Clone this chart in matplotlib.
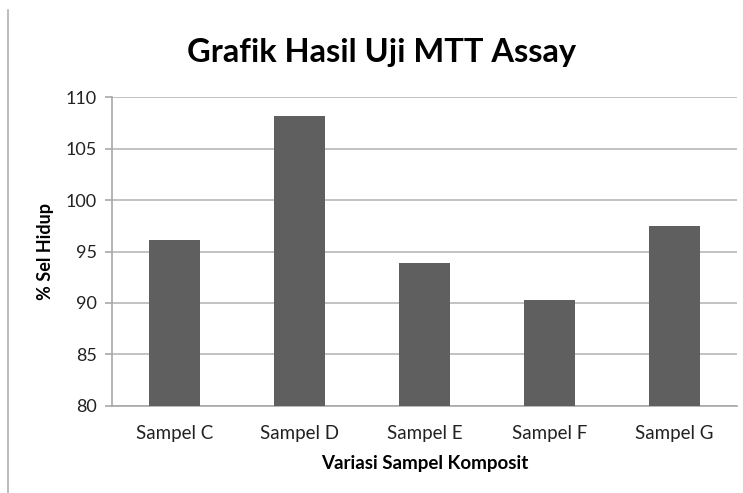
import matplotlib
matplotlib.use('Agg')
import matplotlib.pyplot as plt
from matplotlib.lines import Line2D

samples = ['Sampel C', 'Sampel D', 'Sampel E', 'Sampel F', 'Sampel G']
sel_hidup = [96.1, 108.2, 93.9, 90.3, 97.5]

plt.rcParams['font.family'] = ['Lato', 'DejaVu Sans']

fig = plt.figure(figsize=(7.43, 4.93), dpi=100)
ax = fig.add_axes([0.1507, 0.1765, 0.8413, 0.6267])

x = range(len(samples))
ax.bar(x, sel_hidup, width=0.41, color='#5f5f5f', bottom=0, zorder=3)
ax.set_xlim(-0.5, len(samples) - 0.5)
ax.set_ylim(80, 110)
ax.set_yticks(range(80, 111, 5))
ax.set_xticks(list(x))
ax.set_xticklabels(samples, fontsize=13.5, color='#222222')
ax.tick_params(axis='y', labelsize=13, colors='#222222', length=5, width=1.2,
               color='#a8a8a8', pad=6)
ax.tick_params(axis='x', length=0, pad=14)

ax.grid(axis='y', color='#b8b8b8', linewidth=1.2, zorder=0)
for s in ['top', 'right']:
    ax.spines[s].set_visible(False)
ax.spines['left'].set_color('#a8a8a8')
ax.spines['left'].set_linewidth(1.2)
ax.spines['bottom'].set_color('#a8a8a8')
ax.spines['bottom'].set_linewidth(1.2)

ax.set_xlabel('Variasi Sampel Komposit', fontsize=13.5, fontweight='bold', labelpad=9)
ax.set_ylabel('% Sel Hidup', fontsize=13, fontweight='bold', labelpad=8)
fig.text(0.513, 0.893, 'Grafik Hasil Uji MTT Assay', fontsize=23.5, fontweight='bold',
         ha='center', va='center')

# left page border line
fig.add_artist(Line2D([0.0108, 0.0108], [0, 0.98], transform=fig.transFigure,
                      color='#b0b0b0', linewidth=1.2))

fig.savefig('out.png', dpi=100)
